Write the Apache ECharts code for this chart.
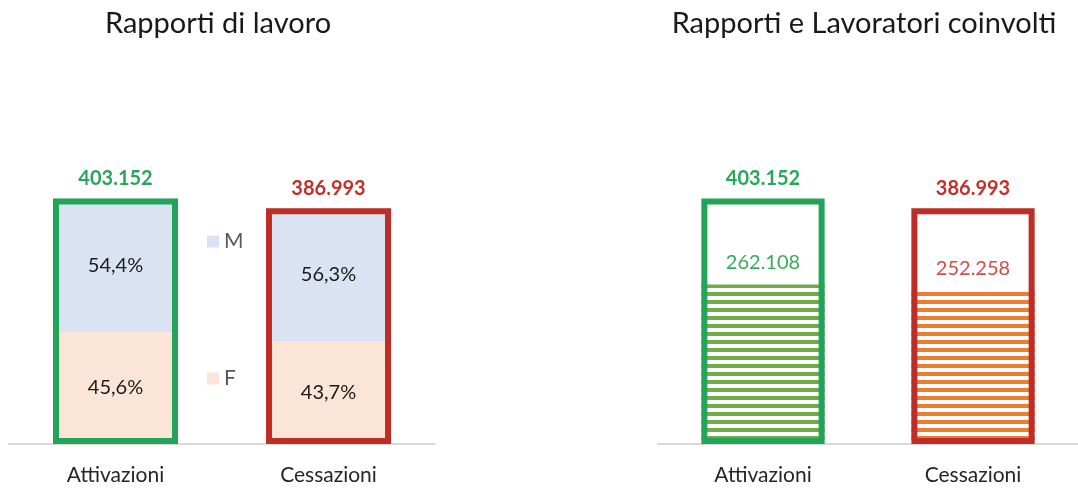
<!DOCTYPE html>
<html>
<head>
<meta charset="utf-8">
<script src="https://cdn.jsdelivr.net/npm/echarts@6/dist/echarts.min.js"></script>
<style>
html,body{margin:0;padding:0;background:#fff;}
#c{width:1078px;height:491px;}
</style>
</head>
<body>
<div id="c"></div>
<script>
// ---- data ----
const categories = ['Attivazioni', 'Cessazioni'];
const totals = [403152, 386993];          // rapporti di lavoro
const pctM = [54.4, 56.3];                // % maschi
const pctF = [45.6, 43.7];                // % femmine
const workers = [262108, 252258];         // lavoratori coinvolti
const titles = ['Rapporti di lavoro', 'Rapporti e Lavoratori coinvolti'];

// ---- styles ----
const FONT = 'Lato';
const borderColors = ['#23a559', '#bf2d27'];
const totalLabelColors = ['#2aa55a', '#c0312b'];
const workerLabelColors = ['#3aab5e', '#d04e48'];
const hatchColors = ['#70ad47', '#ed7d31'];
const BAR_W = '58.7%';

function fmtThousands(v) {
  return String(v).replace(/\B(?=(\d{3})+(?!\d))/g, '.');
}
function fmtPct(v) {
  return v.toFixed(1).replace('.', ',') + '%';
}
function stripe(color) {
  const cv = document.createElement('canvas');
  cv.width = 8; cv.height = 8;
  const ctx = cv.getContext('2d');
  ctx.fillStyle = '#ffffff';
  ctx.fillRect(0, 0, 8, 8);
  ctx.fillStyle = color;
  ctx.fillRect(0, 4, 8, 4);
  return { image: cv, repeat: 'repeat' };
}

const valF = totals.map((t, i) => t * pctF[i] / 100);
const valM = totals.map((t, i) => t * pctM[i] / 100);

const chart = echarts.init(document.getElementById('c'), null, { renderer: 'canvas' });

const xAxisCommon = {
  type: 'category',
  data: categories,
  axisLine: { lineStyle: { color: '#d9d9d9', width: 2 } },
  axisTick: { show: false },
  axisLabel: { fontFamily: FONT, fontSize: 21, color: '#262626', margin: 21 },
  z: 1
};
const yAxisCommon = {
  type: 'value', min: 0, max: 450000, show: false, splitLine: { show: false }
};

const outline = (axisIdx) => ({
  type: 'bar',
  name: 'tot' + axisIdx,
  xAxisIndex: axisIdx,
  yAxisIndex: axisIdx,
  barWidth: BAR_W,
  barGap: '-100%',
  z: 5,
  silent: true,
  data: totals.map((v, i) => ({
    value: v,
    itemStyle: { color: 'rgba(0,0,0,0)', borderColor: borderColors[i], borderWidth: 6 },
    label: { color: totalLabelColors[i] }
  })),
  label: {
    show: true, position: 'top', distance: 10,
    fontFamily: FONT, fontSize: 20, fontWeight: 'bold',
    formatter: p => fmtThousands(p.value)
  }
});

chart.setOption({
  animation: false,
  backgroundColor: '#ffffff',
  title: [
    { text: titles[0], left: 213, top: 4, textAlign: 'center',
      textStyle: { fontFamily: FONT, fontSize: 29, fontWeight: 'normal', color: '#1a1a1a' } },
    { text: titles[1], left: 859, top: 4, textAlign: 'center',
      textStyle: { fontFamily: FONT, fontSize: 29, fontWeight: 'normal', color: '#1a1a1a' } }
  ],
  legend: [
    { data: ['M'], left: 202, top: 226, icon: 'rect', itemWidth: 12, itemHeight: 12, itemGap: 6,
      textStyle: { fontFamily: FONT, fontSize: 21, color: '#595959' } },
    { data: ['F'], left: 202, top: 363, icon: 'rect', itemWidth: 12, itemHeight: 12, itemGap: 6,
      textStyle: { fontFamily: FONT, fontSize: 21, color: '#595959' } }
  ],
  grid: [
    { left: 9, width: 426, top: 170, height: 274 },
    { left: 658, width: 428, top: 170, height: 274 }
  ],
  xAxis: [
    Object.assign({ gridIndex: 0 }, xAxisCommon),
    Object.assign({ gridIndex: 1 }, xAxisCommon)
  ],
  yAxis: [
    Object.assign({ gridIndex: 0 }, yAxisCommon),
    Object.assign({ gridIndex: 1 }, yAxisCommon)
  ],
  series: [
    {
      type: 'bar', name: 'F', stack: 'L', xAxisIndex: 0, yAxisIndex: 0,
      barWidth: BAR_W,
      itemStyle: { color: '#fbe5d6' },
      data: valF,
      label: { show: true, position: 'inside', fontFamily: FONT, fontSize: 20, color: '#1a1a1a',
        formatter: p => fmtPct(pctF[p.dataIndex]) },
      z: 2
    },
    {
      type: 'bar', name: 'M', stack: 'L', xAxisIndex: 0, yAxisIndex: 0,
      barWidth: BAR_W,
      itemStyle: { color: '#dae3f3' },
      data: valM,
      label: { show: true, position: 'inside', fontFamily: FONT, fontSize: 20, color: '#1a1a1a',
        formatter: p => fmtPct(pctM[p.dataIndex]) },
      z: 2
    },
    outline(0),
    {
      type: 'bar', name: 'Lavoratori', xAxisIndex: 1, yAxisIndex: 1,
      barWidth: BAR_W,
      data: workers.map((v, i) => ({
        value: v,
        itemStyle: { color: stripe(hatchColors[i]) },
        label: { color: workerLabelColors[i] }
      })),
      label: { show: true, position: 'top', distance: 12, fontFamily: FONT, fontSize: 20,
        formatter: p => fmtThousands(p.value) },
      z: 2
    },
    outline(1)
  ]
});
</script>
</body>
</html>
